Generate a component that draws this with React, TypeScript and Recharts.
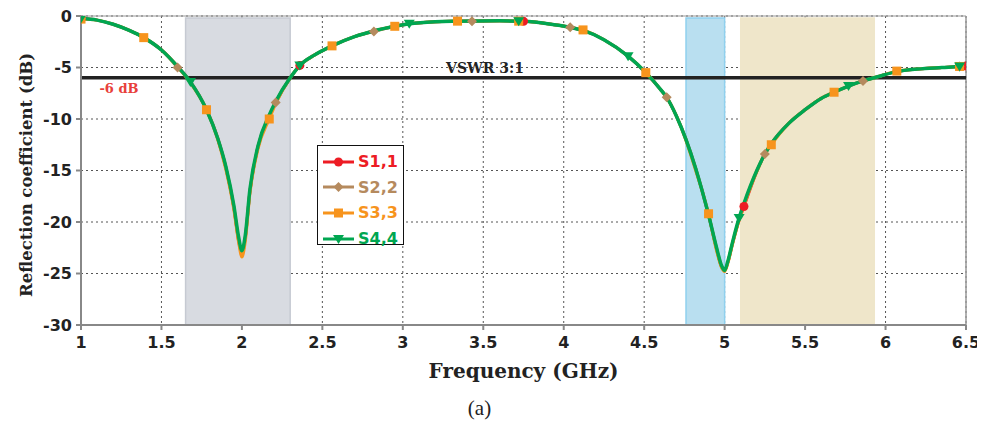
import React from "react";
import {
  CartesianGrid,
  Label,
  Line,
  LineChart,
  ReferenceArea,
  ReferenceLine,
  XAxis,
  YAxis,
} from "recharts";

// frequency grid (GHz)
const freq = [
  1.0, 1.1, 1.2, 1.3, 1.39, 1.5, 1.6, 1.68, 1.78, 1.85, 1.9, 1.95, 1.98, 2.0,
  2.02, 2.05, 2.1, 2.17, 2.21, 2.3, 2.36, 2.45, 2.56, 2.7, 2.82, 2.95, 3.04,
  3.2, 3.34, 3.43, 3.6, 3.72, 3.75, 3.9, 4.04, 4.12, 4.25, 4.4, 4.51, 4.6,
  4.64, 4.7, 4.76, 4.82, 4.9, 4.95, 4.98, 5.0, 5.02, 5.05, 5.09, 5.12, 5.2,
  5.25, 5.29, 5.4, 5.5, 5.6, 5.68, 5.77, 5.86, 5.95, 6.07, 6.2, 6.35, 6.46,
  6.5,
];

const s11 = [
  -0.25, -0.4, -0.8, -1.4, -2.1, -3.3, -4.9, -6.4, -9.1, -11.9, -14.7, -18.6,
  -21.8, -23.0, -21.6, -17.0, -12.7, -9.7, -8.4, -6.0, -4.8, -3.8, -2.9, -2.0,
  -1.45, -1.0, -0.75, -0.55, -0.5, -0.48, -0.47, -0.5, -0.52, -0.75, -1.1,
  -1.4, -2.3, -3.9, -5.5, -7.1, -7.9, -9.7, -12.0, -14.8, -19.3, -22.6, -24.3,
  -24.7, -23.9, -22.0, -19.8, -18.5, -15.1, -13.4, -12.4, -10.4, -9.1, -8.0,
  -7.4, -6.8, -6.3, -5.9, -5.4, -5.15, -5.0, -4.9, -4.85,
];

const s22 = [
  -0.25, -0.4, -0.8, -1.4, -2.1, -3.3, -5.0, -6.4, -9.1, -11.9, -14.7, -18.6,
  -21.9, -23.1, -21.7, -17.0, -12.7, -9.7, -8.4, -6.0, -4.8, -3.8, -2.9, -2.0,
  -1.5, -1.0, -0.75, -0.55, -0.5, -0.5, -0.47, -0.5, -0.52, -0.75, -1.1, -1.4,
  -2.3, -3.9, -5.5, -7.1, -7.9, -9.7, -12.0, -14.8, -19.3, -22.6, -24.3, -24.7,
  -23.9, -22.0, -19.7, -18.3, -15.0, -13.4, -12.4, -10.4, -9.1, -8.0, -7.4,
  -6.8, -6.3, -5.9, -5.4, -5.15, -5.0, -4.9, -4.85,
];

const s33 = [
  -0.3, -0.4, -0.8, -1.4, -2.1, -3.3, -4.9, -6.5, -9.1, -12.0, -14.9, -18.8,
  -22.0, -23.4, -22.0, -17.2, -12.9, -10.0, -8.5, -6.0, -4.8, -3.8, -2.9, -2.0,
  -1.45, -1.0, -0.75, -0.55, -0.5, -0.48, -0.47, -0.5, -0.52, -0.75, -1.1,
  -1.35, -2.3, -3.9, -5.5, -7.1, -7.9, -9.7, -12.1, -15.0, -19.2, -22.8, -24.4,
  -24.8, -24.0, -22.1, -19.8, -18.4, -15.1, -13.4, -12.5, -10.4, -9.1, -8.0,
  -7.4, -6.8, -6.3, -5.9, -5.35, -5.15, -5.0, -4.9, -4.85,
];

const s44 = [
  -0.25, -0.4, -0.8, -1.4, -2.1, -3.3, -4.9, -6.4, -9.1, -11.9, -14.6, -18.4,
  -21.5, -22.8, -21.4, -16.8, -12.6, -9.6, -8.3, -6.0, -4.8, -3.8, -2.9, -2.0,
  -1.45, -1.0, -0.75, -0.55, -0.5, -0.48, -0.47, -0.5, -0.52, -0.75, -1.1,
  -1.4, -2.3, -3.9, -5.5, -7.1, -7.9, -9.7, -12.0, -14.8, -19.3, -22.5, -24.2,
  -24.7, -23.8, -21.9, -19.6, -18.2, -15.0, -13.4, -12.4, -10.4, -9.1, -8.0,
  -7.4, -6.8, -6.3, -5.9, -5.4, -5.15, -5.0, -4.9, -4.85,
];

// frequencies where each trace shows a marker
const s11Marks = [1.0, 2.36, 3.75, 5.12, 6.5];
const s22Marks = [1.0, 1.6, 2.21, 2.82, 3.43, 4.04, 4.64, 5.25, 5.86, 6.46];
const s33Marks = [1.0, 1.39, 1.78, 2.17, 2.56, 2.95, 3.34, 3.72, 4.12, 4.51, 4.9, 5.29, 5.68, 6.07, 6.46];
const s44Marks = [1.0, 1.68, 2.36, 3.04, 3.72, 4.4, 5.09, 5.77, 6.46];

const xTicks = [1, 1.5, 2, 2.5, 3, 3.5, 4, 4.5, 5, 5.5, 6, 6.5];
const yTicks = [0, -5, -10, -15, -20, -25, -30];

const bands = [
  { x1: 1.65, x2: 2.3, fill: "#d8dbe1", stroke: "#c6cad2" },
  { x1: 4.76, x2: 5.0, fill: "#b9dff0", stroke: "#8fd0ee" },
  { x1: 5.1, x2: 5.93, fill: "#efe6ca", stroke: "#efe6ca" },
];

const data = freq.map((f, i) => ({
  f,
  s11: s11[i],
  s22: s22[i],
  s33: s33[i],
  s44: s44[i],
}));

type Shape = "circle" | "diamond" | "square" | "triangle";

const Marker = ({ x, y, shape, color }: { x: number; y: number; shape: Shape; color: string }) => {
  if (shape === "circle") return <circle cx={x} cy={y} r={4.5} fill={color} />;
  if (shape === "diamond")
    return <polygon points={`${x},${y - 5} ${x + 5},${y} ${x},${y + 5} ${x - 5},${y}`} fill={color} />;
  if (shape === "square") return <rect x={x - 4.5} y={y - 4.5} width={9} height={9} fill={color} />;
  return <polygon points={`${x - 5.5},${y - 4} ${x + 5.5},${y - 4} ${x},${y + 5}`} fill={color} />;
};

const makeDot = (shape: Shape, color: string, marks: number[]) => (props: any) => {
  const { cx, cy, payload, index } = props;
  if (!marks.includes(payload.f) || cx == null || cy == null) return <g key={`n${index}`} />;
  return (
    <g key={`m${index}`}>
      <Marker x={cx} y={cy} shape={shape} color={color} />
    </g>
  );
};

const series = [
  { key: "s11", name: "S1,1", color: "#ed1c24", shape: "circle" as Shape, marks: s11Marks, width: 3 },
  { key: "s22", name: "S2,2", color: "#b58a5e", shape: "diamond" as Shape, marks: s22Marks, width: 3 },
  { key: "s33", name: "S3,3", color: "#f7941d", shape: "square" as Shape, marks: s33Marks, width: 3 },
  { key: "s44", name: "S4,4", color: "#00a651", shape: "triangle" as Shape, marks: s44Marks, width: 3.5 },
];

const tickStyle = { fontFamily: "DejaVu Sans", fontWeight: "bold", fontSize: 16, fill: "#222" };

const VswrLabel = (props: any) => {
  const { x, y } = props.viewBox;
  return (
    <g>
      <text x={x + 404} y={y - 5} textAnchor="middle" fontFamily="DejaVu Serif" fontWeight="bold" fontSize={14} fill="#222">
        VSWR 3:1
      </text>
      <text x={x + 38} y={y + 15} textAnchor="middle" fontFamily="DejaVu Serif" fontWeight="bold" fontSize={13} fill="#e8403a">
        -6 dB
      </text>
    </g>
  );
};

const XTitle = (props: any) => {
  const { x, y, width } = props.viewBox;
  return (
    <g>
      <text x={x + width / 2} y={y + 53} textAnchor="middle" fontFamily="DejaVu Serif" fontWeight="bold" fontSize={20} fill="#222">
        Frequency (GHz)
      </text>
      <text x={x + width / 2 - 44} y={y + 90} textAnchor="middle" fontFamily="Liberation Serif" fontSize={21} fill="#222">
        (a)
      </text>
    </g>
  );
};

const YTitle = (props: any) => {
  const { x } = props.viewBox;
  const cx = x + 5;
  const cy = 167;
  return (
    <text
      x={cx}
      y={cy}
      transform={`rotate(-90 ${cx} ${cy})`}
      textAnchor="middle"
      dominantBaseline="central"
      fontFamily="DejaVu Serif"
      fontWeight="bold"
      fontSize={16.5}
      fill="#222"
    >
      Reflection coefficient (dB)
    </text>
  );
};

const LegendBox = () => (
  <div
    style={{
      position: "absolute",
      left: 309,
      top: 137,
      width: 87,
      height: 100,
      border: "1.5px solid #111",
      background: "#fff",
      boxSizing: "border-box",
      paddingTop: 3,
    }}
  >
    {series.map((s) => (
      <div key={s.key} style={{ display: "flex", alignItems: "center", height: 25.6 }}>
        <svg width={40} height={14} style={{ marginLeft: 4 }}>
          <line x1={1} y1={7} x2={32} y2={7} stroke={s.color} strokeWidth={3} />
          <Marker x={16.5} y={7} shape={s.shape} color={s.color} />
        </svg>
        <span style={{ fontFamily: "DejaVu Sans", fontWeight: "bold", fontSize: 16, color: s.color, marginLeft: -4 }}>
          {s.name}
        </span>
      </div>
    ))}
  </div>
);

export default function App() {
  return (
    <div style={{ position: "relative", width: 977, height: 416 }}>
      <LineChart width={977} height={416} data={data} margin={{ top: 8, right: 19, bottom: 69, left: 13 }}>
        {bands.map((b) => (
          <ReferenceArea
            key={b.x1}
            x1={b.x1}
            x2={b.x2}
            y1={-30}
            y2={-0.2}
            fill={b.fill}
            fillOpacity={1}
            stroke={b.stroke}
            strokeWidth={1.5}
            ifOverflow="visible"
          />
        ))}
        <CartesianGrid stroke="#555" strokeDasharray="2 3" strokeWidth={1} />
        <XAxis
          dataKey="f"
          type="number"
          domain={[1, 6.5]}
          ticks={xTicks}
          interval={0}
          height={30}
          tick={tickStyle}
          tickSize={5}
          tickMargin={7}
          stroke="#888"
          strokeWidth={2}
          allowDataOverflow
        >
          <Label content={XTitle} />
        </XAxis>
        <YAxis
          type="number"
          domain={[-30, 0]}
          ticks={yTicks}
          interval={0}
          width={60}
          tick={tickStyle}
          tickSize={5}
          tickMargin={4}
          stroke="#888"
          strokeWidth={2}
          allowDataOverflow
        >
          <Label content={YTitle} />
        </YAxis>
        <ReferenceLine y={0} stroke="#999" strokeWidth={1} />
        <ReferenceLine x={6.5} stroke="#999" strokeWidth={1.5} />
        <ReferenceLine y={-6} stroke="#222" strokeWidth={3.5} label={VswrLabel} />
        {series.map((s) => (
          <Line
            key={s.key}
            type="monotone"
            dataKey={s.key}
            name={s.name}
            stroke={s.color}
            strokeWidth={s.width}
            dot={makeDot(s.shape, s.color, s.marks)}
            activeDot={false}
            isAnimationActive={false}
          />
        ))}
      </LineChart>
      <LegendBox />
    </div>
  );
}
